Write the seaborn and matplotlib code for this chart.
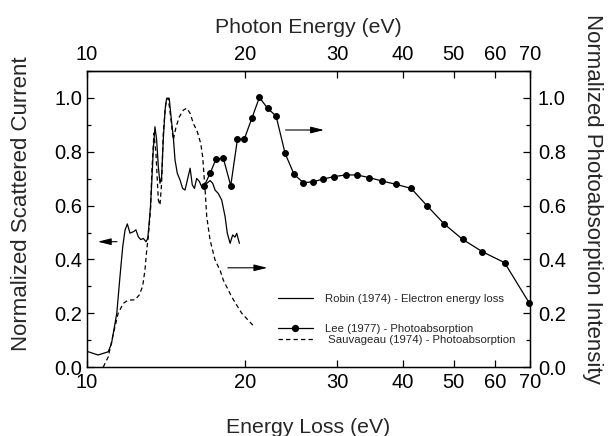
import matplotlib
matplotlib.use("Agg")
import matplotlib.pyplot as plt
from matplotlib.lines import Line2D
from matplotlib.ticker import FixedLocator, NullLocator, FixedFormatter, MultipleLocator
import seaborn as sns
import pandas as pd

# ---- data ----
robin_x = [10.06, 10.50, 10.98, 11.14, 11.40, 11.56, 11.70, 11.82, 11.94, 12.08, 12.26, 12.40,
           12.53, 12.66, 12.81, 12.96, 13.06, 13.14, 13.22, 13.29, 13.38, 13.48, 13.58, 13.68,
           13.78, 13.88, 13.98, 14.09, 14.19, 14.35, 14.51, 14.61, 14.72, 14.87, 15.05, 15.22,
           15.38, 15.54, 15.73, 15.88, 16.03, 16.19, 16.38, 16.55, 16.72, 16.92, 17.17, 17.37,
           17.55, 17.80, 18.07, 18.34, 18.52, 18.75, 18.96, 19.15, 19.30, 19.53]
robin_y = [0.057, 0.045, 0.057, 0.088, 0.200, 0.336, 0.447, 0.509, 0.532, 0.498, 0.503, 0.510,
           0.484, 0.474, 0.478, 0.466, 0.478, 0.535, 0.600, 0.684, 0.807, 0.893, 0.844, 0.745,
           0.683, 0.707, 0.844, 0.955, 0.999, 0.999, 0.906, 0.856, 0.770, 0.720, 0.695, 0.664,
           0.658, 0.695, 0.739, 0.677, 0.664, 0.701, 0.690, 0.670, 0.664, 0.683, 0.693, 0.683,
           0.658, 0.645, 0.621, 0.559, 0.497, 0.460, 0.491, 0.483, 0.497, 0.460]

sauv_x = [10.74, 10.98, 11.23, 11.47, 11.73, 11.99, 12.35, 12.58, 12.77, 12.90, 13.00, 13.09,
          13.23, 13.29, 13.42, 13.54, 13.68, 13.78, 13.88, 13.98, 14.15, 14.29, 14.44, 14.61,
          14.79, 15.00, 15.27, 15.50, 15.73, 15.95, 16.23, 16.48, 16.62, 16.80, 16.92, 17.17,
          17.55, 17.94, 18.20, 18.88, 19.73, 20.71]
sauv_y = [0.0, 0.038, 0.125, 0.200, 0.237, 0.249, 0.250, 0.268, 0.300, 0.360, 0.435, 0.484,
          0.596, 0.720, 0.869, 0.794, 0.621, 0.602, 0.683, 0.869, 0.993, 0.999, 0.930, 0.844,
          0.893, 0.930, 0.955, 0.962, 0.943, 0.906, 0.875, 0.831, 0.782, 0.658, 0.559, 0.472,
          0.398, 0.360, 0.323, 0.261, 0.200, 0.156]

lee_x = [16.74, 17.17, 17.62, 18.20, 18.80, 19.36, 19.96, 20.62, 21.32, 22.12, 22.94, 23.87,
         24.83, 25.87, 27.03, 28.24, 29.60, 31.17, 32.71, 34.57, 36.60, 38.87, 41.51, 44.49,
         47.99, 52.01, 56.72, 62.56, 69.63]
lee_y = [0.674, 0.720, 0.773, 0.776, 0.674, 0.846, 0.848, 0.924, 1.002, 0.961, 0.933, 0.794,
         0.716, 0.685, 0.689, 0.699, 0.708, 0.714, 0.714, 0.704, 0.691, 0.679, 0.664, 0.600,
         0.532, 0.475, 0.429, 0.388, 0.240]

x_ticks = [10, 20, 30, 40, 50, 60, 70]
x_tick_labels = ["10", "20", "30", "40", "50", "60", "70"]
y_ticks = [0.0, 0.2, 0.4, 0.6, 0.8, 1.0]
y_tick_labels = ["0.0", "0.2", "0.4", "0.6", "0.8", "1.0"]

labels = ["Robin (1974) - Electron energy loss",
          "Lee (1977) - Photoabsorption",
          " Sauvageau (1974) - Photoabsorption"]

# ---- style ----
sns.set_style("ticks")
plt.rcParams["font.family"] = ["Liberation Sans", "DejaVu Sans"]
plt.rcParams.update({
    "axes.linewidth": 0.9,
    "xtick.direction": "in", "ytick.direction": "in",
    "xtick.color": "black", "ytick.color": "black",
    "xtick.major.size": 5, "ytick.major.size": 5,
    "ytick.minor.size": 3, "xtick.major.width": 0.9,
    "ytick.major.width": 0.9, "ytick.minor.width": 0.9,
    "axes.edgecolor": "black",
})

TICK_FS = 14.5
fig = plt.figure(figsize=(6.08, 4.36), dpi=100)
ax = fig.add_axes([0.143, 0.158, 0.729, 0.679])
ax2 = ax.twinx()

df_r = pd.DataFrame({"x": robin_x, "y": robin_y})
df_s = pd.DataFrame({"x": sauv_x, "y": sauv_y})
df_l = pd.DataFrame({"x": lee_x, "y": lee_y})

sns.lineplot(data=df_r, x="x", y="y", ax=ax, color="black", lw=0.9,
             estimator=None, sort=False)
sns.lineplot(data=df_s, x="x", y="y", ax=ax, color="black", lw=0.9,
             estimator=None, sort=False, linestyle=(0, (3.5, 2.5)))
sns.lineplot(data=df_l, x="x", y="y", ax=ax2, color="black", lw=0.9,
             estimator=None, sort=False, marker="o", markersize=4.2,
             markeredgecolor="black", clip_on=False)

for a in (ax, ax2):
    a.set_xscale("log")
    a.set_xlim(10, 70)
    a.set_ylim(0, 1.1)

ax.xaxis.set_major_locator(FixedLocator(x_ticks))
ax.xaxis.set_major_formatter(FixedFormatter(x_tick_labels))
ax.xaxis.set_minor_locator(NullLocator())

ax.yaxis.set_major_locator(FixedLocator(y_ticks))
ax.yaxis.set_major_formatter(FixedFormatter(y_tick_labels))
ax.yaxis.set_minor_locator(MultipleLocator(0.1))
ax2.yaxis.set_major_locator(FixedLocator(y_ticks))
ax2.yaxis.set_major_formatter(FixedFormatter(y_tick_labels))
ax2.yaxis.set_minor_locator(MultipleLocator(0.1))

ax.tick_params(axis="x", which="major", direction="in", length=5, width=0.9,
               color="black", labelsize=TICK_FS, pad=4)
ax.tick_params(axis="y", which="major", direction="in", length=5, width=0.9,
               color="black", labelsize=TICK_FS, pad=3.5)
ax.tick_params(axis="y", which="minor", direction="in", length=3, width=0.9, color="black")
ax2.tick_params(axis="y", which="major", direction="in", length=5, width=0.9,
                color="black", labelsize=TICK_FS, pad=5.5)
ax2.tick_params(axis="y", which="minor", direction="in", length=3, width=0.9, color="black")

sec = ax.secondary_xaxis("top")
sec.xaxis.set_major_locator(FixedLocator(x_ticks))
sec.xaxis.set_major_formatter(FixedFormatter(x_tick_labels))
sec.xaxis.set_minor_locator(NullLocator())
sec.tick_params(axis="x", which="major", direction="in", length=5, width=0.9,
                color="black", labelsize=TICK_FS, pad=5)
sec.set_xlabel("Photon Energy (eV)", fontsize=15.3, labelpad=9)

ax.set_xlabel("Energy Loss (eV)", fontsize=15.3, labelpad=19)
ax.set_ylabel("Normalized Scattered Current", fontsize=16)
ax.yaxis.set_label_coords(-0.124, 0.551)
ax2.set_ylabel("Normalized Photoabsorption Intensity", fontsize=16, rotation=270,
               va="bottom")
ax2.yaxis.set_label_coords(1.118, 0.568)

for a in (ax, ax2):
    for s in a.spines.values():
        s.set_visible(True)
        s.set_linewidth(0.9)
        s.set_color("black")

# arrows
arrow_kw = dict(arrowstyle="-|>,head_length=0.8,head_width=0.2", color="black", lw=0.8)
ax.annotate("", xy=(10.36, 0.466), xytext=(11.55, 0.466), arrowprops=arrow_kw)
ax.annotate("", xy=(22.35, 0.369), xytext=(18.34, 0.369), arrowprops=arrow_kw)
ax.annotate("", xy=(28.67, 0.881), xytext=(23.63, 0.881), arrowprops=arrow_kw)

# legends
LEG_FS = 8.2
h_r = Line2D([], [], color="black", lw=0.9)
h_l = Line2D([], [], color="black", lw=0.9, marker="o", markersize=4.2)
h_s = Line2D([], [], color="black", lw=0.9, linestyle=(0, (3.5, 2.5)))
leg1 = ax.legend([h_r], [labels[0]], loc="center left", bbox_to_anchor=(0.431, 0.23),
                 frameon=False, fontsize=LEG_FS, handlelength=3.07, handletextpad=1.05,
                 borderpad=0, borderaxespad=0)
ax.add_artist(leg1)
ax.legend([h_l, h_s], labels[1:], loc="center left", bbox_to_anchor=(0.431, 0.11),
          frameon=False, fontsize=LEG_FS, handlelength=3.07, handletextpad=1.05,
          borderpad=0, borderaxespad=0, labelspacing=0.05)

fig.savefig("out.png", dpi=100)
